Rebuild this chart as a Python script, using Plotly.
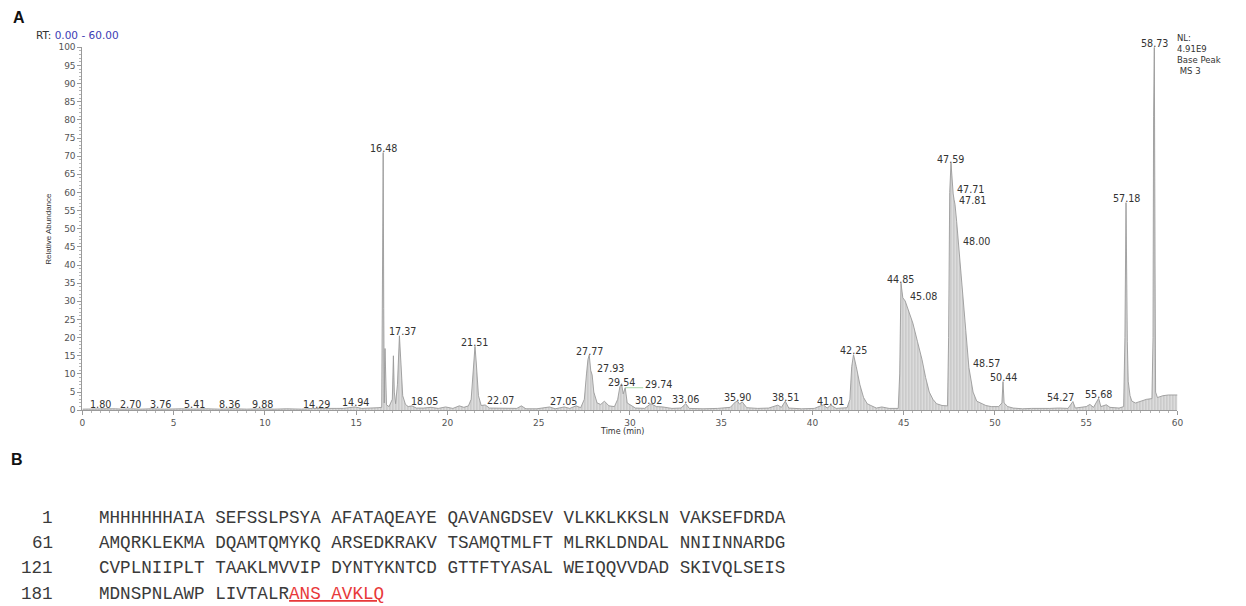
import plotly.graph_objects as go

W, H = 1246, 606

# Base-peak chromatogram (MS3), retention time in minutes vs. relative abundance (%)
RT_MIN = [
    0.00, 0.50, 1.00, 1.40, 1.80, 2.20, 2.70, 3.20, 3.76, 4.50,
    5.41, 6.00, 6.80, 7.50, 8.36, 9.00, 9.88, 10.50, 11.20, 12.00,
    12.60, 13.30, 13.90, 14.29, 14.60, 14.94, 15.30, 15.80, 16.20, 16.40,
    16.44, 16.48, 16.51, 16.54, 16.56, 16.58, 16.62, 16.66, 16.80, 16.98,
    17.04, 17.09, 17.16, 17.26, 17.37, 17.45, 17.55, 17.70, 17.85, 18.05,
    18.30, 18.70, 19.10, 19.50, 19.90, 20.30, 20.65, 20.90, 21.15, 21.30,
    21.42, 21.51, 21.58, 21.70, 21.85, 22.07, 22.30, 22.80, 23.30, 23.80,
    24.05, 24.30, 24.90, 25.60, 25.90, 26.40, 26.70, 27.05, 27.30, 27.50,
    27.62, 27.70, 27.77, 27.85, 27.93, 28.02, 28.20, 28.40, 28.60, 28.85,
    29.15, 29.33, 29.45, 29.54, 29.63, 29.74, 29.85, 30.02, 30.30, 30.80,
    31.15, 31.45, 31.80, 32.30, 32.80, 33.06, 33.25, 34.00, 34.80, 35.50,
    35.78, 35.90, 36.00, 36.15, 36.40, 37.00, 37.60, 38.10, 38.30, 38.51,
    38.70, 39.40, 40.10, 40.60, 40.80, 41.01, 41.30, 41.90, 42.05, 42.15,
    42.25, 42.40, 42.60, 42.80, 43.00, 43.20, 43.50, 43.80, 44.20, 44.70,
    44.78, 44.85, 44.95, 45.08, 45.30, 45.50, 45.75, 46.00, 46.20, 46.40,
    46.60, 46.80, 47.10, 47.40, 47.46, 47.52, 47.59, 47.65, 47.71, 47.76,
    47.81, 47.90, 48.00, 48.20, 48.40, 48.57, 48.80, 49.00, 49.20, 49.50,
    49.80, 50.20, 50.38, 50.44, 50.50, 50.70, 51.00, 51.50, 52.00, 52.50,
    53.00, 53.50, 54.00, 54.27, 54.40, 55.00, 55.20, 55.40, 55.68, 55.80,
    56.10, 56.30, 56.80, 57.05, 57.12, 57.18, 57.22, 57.25, 57.30, 57.40,
    57.50, 57.70, 58.00, 58.30, 58.60, 58.66, 58.69, 58.73, 58.77, 58.80,
    58.90, 59.20, 59.50, 59.80, 60.00,
]
ABUNDANCE = [
    0.3, 0.4, 0.3, 0.4, 0.4, 0.3, 0.4, 0.3, 0.4, 0.3,
    0.4, 0.3, 0.4, 0.3, 0.4, 0.3, 0.4, 0.3, 0.4, 0.3,
    0.5, 0.4, 0.5, 0.5, 0.6, 0.9, 0.5, 0.5, 0.7, 0.8,
    35.0, 71.0, 28.0, 2.0, 12.0, 17.0, 9.0, 1.5, 1.0, 3.0,
    15.0, 5.0, 1.8, 7.0, 20.5, 12.0, 4.0, 1.6, 1.0, 1.2,
    0.6, 0.6, 0.8, 0.5, 0.9, 0.5, 1.2, 0.8, 1.2, 3.0,
    12.0, 17.6, 13.0, 4.0, 1.3, 1.45, 0.6, 0.5, 0.4, 0.5,
    1.2, 0.4, 0.4, 0.9, 0.4, 0.9, 0.5, 1.2, 0.7, 3.0,
    10.0, 14.0, 15.2, 11.0, 9.7, 5.0, 2.0, 1.6, 2.5, 1.2,
    1.0, 3.0, 6.5, 7.3, 4.5, 6.2, 2.0, 1.45, 0.6, 0.5,
    1.8, 1.0, 0.9, 0.5, 0.6, 1.8, 0.5, 0.4, 0.5, 0.8,
    2.3, 2.5, 1.7, 2.3, 0.7, 0.5, 0.6, 1.4, 0.8, 2.5,
    0.6, 0.4, 0.5, 1.5, 0.6, 1.4, 0.5, 0.7, 3.0, 12.0,
    15.3, 12.0, 7.0, 3.5, 1.8, 1.3, 0.6, 0.9, 0.5, 0.5,
    10.0, 35.0, 31.0, 30.1, 27.0, 24.0, 19.0, 14.0, 9.0, 5.0,
    3.0, 1.8, 1.3, 1.2, 20.0, 60.0, 68.1, 63.0, 59.6, 58.0,
    56.7, 52.0, 45.5, 34.0, 22.0, 11.8, 5.0, 2.5, 2.0, 1.3,
    1.0, 1.0, 2.0, 7.9, 2.0, 1.0, 0.6, 0.4, 0.5, 0.4,
    0.5, 0.6, 0.5, 2.4, 0.6, 1.0, 1.6, 0.8, 3.3, 1.0,
    1.5, 0.8, 0.6, 1.0, 20.0, 57.2, 25.0, 19.0, 8.0, 4.0,
    2.5, 2.0, 2.5, 3.0, 3.2, 20.0, 81.0, 100.0, 40.0, 5.0,
    3.5, 4.0, 4.2, 4.3, 4.2,
]
assert len(RT_MIN) == len(ABUNDANCE)

# Retention times that carry a peak label
LABELED_RT = [
    1.80, 2.70, 3.76, 5.41, 8.36, 9.88, 14.29, 14.94, 16.48, 17.37,
    18.05, 21.51, 22.07, 27.05, 27.77, 27.93, 29.54, 29.74, 30.02, 33.06,
    35.90, 38.51, 41.01, 42.25, 44.85, 45.08, 47.59, 47.71, 47.81, 48.00,
    48.57, 50.44, 54.27, 55.68, 57.18, 58.73,
]

HEADER_INFO = ["NL:", "4.91E9", "Base Peak", " MS 3"]

# Panel B: protein sequence, 60 residues per row, identified peptide highlighted
SEQ_START = [1, 61, 121, 181]
SEQ_ROWS = [
    "MHHHHHHAIA SEFSSLPSYA AFATAQEAYE QAVANGDSEV VLKKLKKSLN VAKSEFDRDA",
    "AMQRKLEKMA DQAMTQMYKQ ARSEDKRAKV TSAMQTMLFT MLRKLDNDAL NNIINNARDG",
    "CVPLNIIPLT TAAKLMVVIP DYNTYKNTCD GTTFTYASAL WEIQQVVDAD SKIVQLSEIS",
    "MDNSPNLAWP LIVTALR",
]
PEPTIDE = "ANS AVKLQ"

# ---- styling -------------------------------------------------------------
# canvas placement: positions below are given in page pixels and mapped onto
# the figure with a slight inset so the whole panel sits inside the frame
SX, BX = 0.9927, 2.6
SY, BY = 0.989, 2.5

X0_PX, X1_PX = 82, 1177      # plot area, page pixels
Y0_PX, Y1_PX = 410, 45
PX_PER_MIN = (X1_PX - X0_PX) / 60.0

# per-label pixel nudges (dx, dy) used to keep labels from colliding
LABEL_SHIFT = {
    1.80: (-15, 4), 2.70: (-1, 4), 3.76: (9, 4), 5.41: (13, 4), 8.36: (-5, 4),
    14.29: (-27, 4), 17.37: (3, 4), 18.05: (13, 4), 22.07: (15, 4),
    27.05: (-13, 4), 27.93: (18, 6.5), 29.54: (0, 1.5), 29.74: (33, 3),
    30.02: (18, 4), 45.08: (18, 4), 47.71: (17, 4), 47.81: (17, 4),
    48.00: (18, 4), 48.57: (18, 4), 54.27: (-12, 4),
}

LABEL_FONT = dict(family="DejaVu Sans", size=9.6, color="#333333")
TICK_FONT = dict(family="DejaVu Sans", size=9, color="#555555")
MONO = "Liberation Mono, Courier New, monospace"


def px(x):
    return ((x - BX) / SX) / W


def py(y):
    return 1 - ((y - BY) / SY) / H


def paper_text(x, y, text, font, xanchor="center", yanchor="middle", **kw):
    return dict(x=px(x), y=py(y), xref="paper", yref="paper", text=text,
                showarrow=False, xanchor=xanchor, yanchor=yanchor, font=font, **kw)


fig = go.Figure()
fig.add_trace(go.Scatter(
    x=RT_MIN, y=ABUNDANCE, mode="lines",
    line=dict(color="#9a9a9a", width=0.9),
    fill="tozeroy", fillcolor="#d9d9d9",
    fillpattern=dict(shape="|", fgcolor="#a3a3a3", bgcolor="#dcdcdc",
                     size=3, solidity=0.35),
    cliponaxis=False, hoverinfo="skip",
))

annotations = []
shapes = []

for rt in LABELED_RT:
    val = ABUNDANCE[RT_MIN.index(rt)]
    dx, dy = LABEL_SHIFT.get(rt, (0, 4))
    annotations.append(dict(
        x=rt, y=val, xref="x", yref="y", text=f"{rt:.2f}", showarrow=False,
        xanchor="center", yanchor="middle", xshift=dx, yshift=dy,
        borderpad=0, font=LABEL_FONT,
    ))
    if dx > 25:
        # leader line from a displaced label back to its peak
        shapes.append(dict(
            type="line", xref="x", yref="y",
            x0=rt, x1=rt + (dx - 15) / PX_PER_MIN, y0=val, y1=val,
            line=dict(color="#a8d8a8", width=1),
        ))

# header above the trace
annotations.append(paper_text(
    34, 33, "RT: <span style='color:#3c3cb4'>0.00 - 60.00</span>",
    dict(family="DejaVu Sans", size=10.5, color="#333333"), xanchor="left"))
annotations.append(paper_text(
    1175, 52, "<br>".join(HEADER_INFO),
    dict(family="DejaVu Sans", size=8.5, color="#333333"),
    xanchor="left", align="left"))

# axis titles
annotations.append(paper_text(
    48, 227, "Relative Abundance",
    dict(family="Liberation Sans Narrow, Liberation Sans, Arial", size=8,
         color="#333333"), textangle=-90))
annotations.append(paper_text(
    622, 431, "Time (min)", dict(family="DejaVu Sans", size=8, color="#333333")))

# panel letters
for letter, (lx, ly) in (("A", (18.5, 15)), ("B", (17, 460))):
    annotations.append(paper_text(
        lx, ly, f"<b>{letter}</b>",
        dict(family="Liberation Sans, Arial", size=16, color="#111111")))

# sequence block
row_y = [518, 544, 569, 595]
for k, (start, row) in enumerate(zip(SEQ_START, SEQ_ROWS)):
    seq_font = dict(family=MONO, size=17.6, color="#3a3a3a")
    annotations.append(paper_text(55, row_y[k], str(start), seq_font,
                                  xanchor="right"))
    text = row
    if k == len(SEQ_ROWS) - 1:
        text += f"<span style='color:#e8393a'><u>{PEPTIDE}</u></span>"
    annotations.append(paper_text(97, row_y[k], text, seq_font, xanchor="left"))

fig.update_layout(
    width=W, height=H, margin=dict(l=0, r=0, t=0, b=0),
    paper_bgcolor="white", plot_bgcolor="white", showlegend=False,
    annotations=annotations, shapes=shapes,
)
fig.update_xaxes(
    domain=[px(X0_PX), px(X1_PX)], range=[0, 60],
    tickmode="linear", tick0=0, dtick=5,
    ticks="outside", ticklen=4, tickcolor="#999999",
    showline=True, linecolor="#9a9a9a", linewidth=1,
    showgrid=False, zeroline=False, tickfont=TICK_FONT,
    minor=dict(dtick=0.5, ticks="outside", ticklen=2, tickcolor="#b5b5b5",
               showgrid=False),
)
fig.update_yaxes(
    domain=[py(Y0_PX), py(Y1_PX)], range=[0, 100],
    tickmode="linear", tick0=0, dtick=5,
    ticks="outside", ticklen=4, tickcolor="#999999",
    showline=True, linecolor="#9a9a9a", linewidth=1,
    showgrid=False, zeroline=False, tickfont=TICK_FONT,
    minor=dict(dtick=1, ticks="outside", ticklen=2, tickcolor="#b5b5b5",
               showgrid=False),
)

fig.write_html("out.html")
